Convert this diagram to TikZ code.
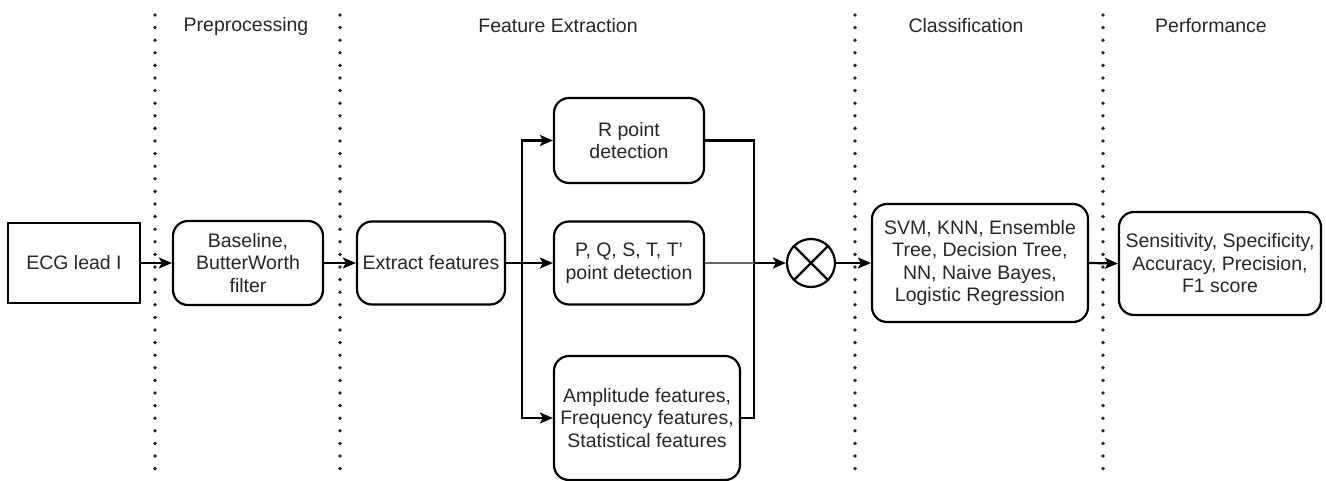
\documentclass[tikz,border=0pt]{standalone}
\usepackage{fontspec}
\setmainfont{Liberation Sans}
\usetikzlibrary{arrows.meta}
\begin{document}
\begin{tikzpicture}[x=1pt,y=-1pt,
  every node/.style={font=\fontsize{19.5}{22.5}\selectfont, text=black!85},
  blk/.style={draw, line width=2.2pt, align=center, inner sep=2pt},
  rbox/.style={blk, rounded corners=15pt},
  arr/.style={line width=2.2pt, -{Stealth[length=13pt,width=11pt,inset=3pt]}},
  ln/.style={line width=2.2pt},
  sep/.style={line width=3.8pt, line cap=round, dash pattern=on 0pt off 12.6pt, black!85},
  hdr/.style={anchor=center}
]
\useasboundingbox (0,0) rectangle (1326,481);
% separators
\foreach \x/\n in {155/s1,340/s2,855/s3,1103/s4}{
  \coordinate (\n t) at (\x,15);
  \coordinate (\n b) at (\x,481);
  \draw[sep] (\n t) -- (\n b);
}
% headers
\node[hdr] (h1) at (246,26) {Preprocessing};
\node[hdr] (h2) at (558,26) {Feature Extraction};
\node[hdr] (h3) at (966,26) {Classification};
\node[hdr] (h4) at (1211,26) {Performance};
% boxes
\node[blk, minimum width=132pt, minimum height=80pt] (ecg) at (74,263) {ECG lead I};
\node[rbox, minimum width=150pt, minimum height=84pt] (base) at (248,263) {Baseline,\\ButterWorth\\filter};
\node[rbox, minimum width=148pt, minimum height=83pt] (ext) at (431,263) {Extract features};
\node[rbox, minimum width=150pt, minimum height=85pt] (rp) at (629,140.5) {R point\\detection};
\node[rbox, minimum width=150pt, minimum height=83pt] (pq) at (629,263) {P, Q, S, T, T'\\point detection};
\node[rbox, minimum width=186pt, minimum height=124pt] (amp) at (647,418) {Amplitude features,\\Frequency features,\\Statistical features};
\node[draw, circle, line width=2.2pt, minimum size=48pt, inner sep=0pt] (cx) at (811,263) {};
\draw[ln] (cx.45) -- (cx.225);
\draw[ln] (cx.135) -- (cx.315);
\node[rbox, minimum width=216pt, minimum height=118pt] (cls) at (980,263) {SVM, KNN, Ensemble\\Tree, Decision Tree,\\NN, Naive Bayes,\\Logistic Regression};
\node[rbox, minimum width=202pt, minimum height=103pt] (perf) at (1220,263.5) {Sensitivity, Specificity,\\Accuracy, Precision,\\F1 score};
% connectors
\coordinate (br) at (522,263);
\coordinate (mg) at (754,263);
\draw[arr] (ecg) -- (base);
\draw[arr] (base) -- (ext);
\draw[arr] (ext.east) -- (pq.west);
\draw[arr] (br) |- (rp.west);
\draw[arr] (br) |- (amp.west);
\draw[ln] (rp.east) -| (mg);
\draw[ln] (amp.east) -| (mg);
\draw[line width=1.2pt, black!60] (pq.east) -- (mg);
\draw[arr] (mg) -- (cx.west);
\draw[arr] (cx.east) -- (cls.west);
\draw[arr] (cls.east) -- (perf.west);
\end{tikzpicture}
\end{document}
